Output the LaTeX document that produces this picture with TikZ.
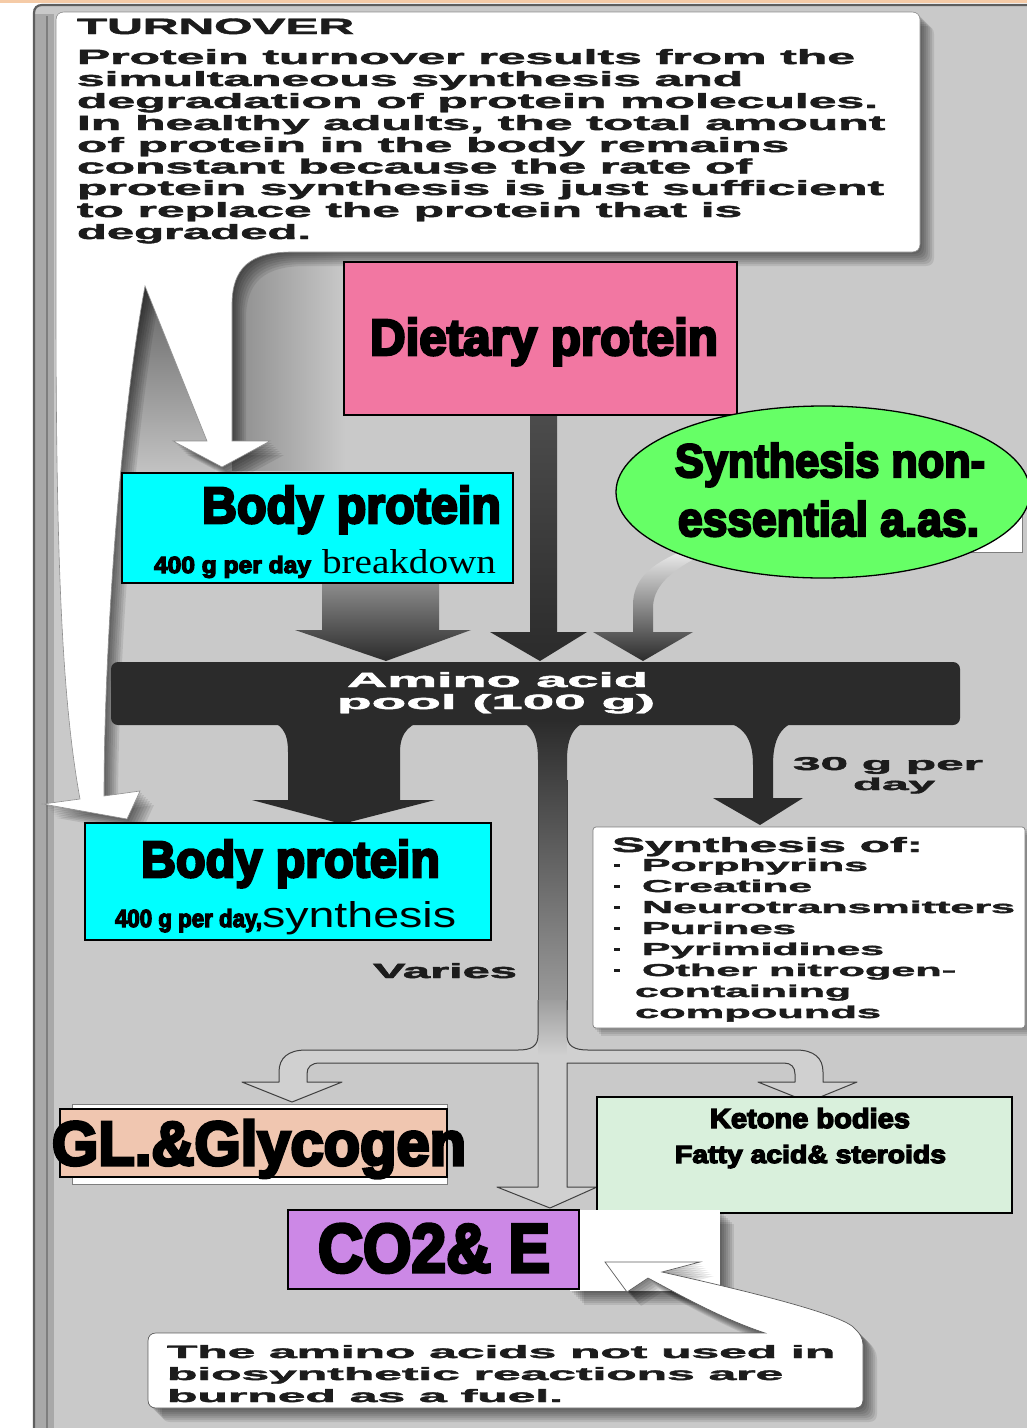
\documentclass[tikz,border=0pt]{standalone}
\usepackage{fontspec}
\usepackage{graphicx}
\setmainfont{Liberation Sans}[BoldFeatures={FakeBold=1.8}]
\newfontfamily\blkfam{Liberation Sans}[BoldFeatures={FakeBold=5}]
\newfontfamily\serffam{Liberation Serif}
\newcommand{\blk}{\blkfam\bfseries}
\newcommand{\fitw}[3]{\resizebox{#1pt}{#2pt}{#3}}
\definecolor{bggray}{HTML}{C9C9C9}
\definecolor{bandgray}{HTML}{A8A8A8}
\definecolor{framec}{HTML}{5E5E5E}
\definecolor{topline}{HTML}{F5CBA7}
\definecolor{pinkc}{HTML}{F277A2}
\definecolor{cyanc}{HTML}{00FFFF}
\definecolor{greenc}{HTML}{66FF66}
\definecolor{peachc}{HTML}{F0C6B0}
\definecolor{ketc}{HTML}{D9F0DC}
\definecolor{violc}{HTML}{CC88E6}
\definecolor{darkc}{HTML}{2B2B2B}
\definecolor{inkc}{HTML}{1C1C1C}
\definecolor{treec}{HTML}{D0D0D0}
\tikzset{
  txt/.style={anchor=base west, inner sep=0pt, outer sep=0pt, text=inkc},
  wtxt/.style={anchor=base west, inner sep=0pt, outer sep=0pt, text=white},
  colbox/.style={draw=black, line width=1.3pt},
  whitebox/.style={fill=white, draw=framec!80, line width=0.7pt},
  shd/.style={black, opacity=0.09}
}
\def\turnpath{(64,12) -- (912,12) .. controls (917,12) and (920,15) .. (920,20) -- (920,244) .. controls (920,249) and (917,252) .. (912,252) -- (292,252) .. controls (250,252) and (232,268) .. (232,305) -- (232,441) -- (270,441) -- (222,467) -- (173,441) -- (207,441) -- (145,286) .. controls (120,420) and (104,650) .. (104,796) -- (140,791) -- (127,819) -- (43,804) -- (80,799) .. controls (62,700) and (56,560) .. (56,300) -- (56,20) .. controls (56,15) and (59,12) .. (64,12) -- cycle}
\def\fuelpath{(156,1333) -- (765,1333) .. controls (720,1318) and (680,1295) .. (648,1278) -- (627,1292) -- (605,1262) -- (700,1262) -- (662,1272) .. controls (720,1285) and (830,1310) .. (852,1326) .. controls (860,1333) and (863,1338) .. (863,1345) -- (863,1400) .. controls (863,1405) and (860,1408) .. (855,1408) -- (156,1408) .. controls (151,1408) and (148,1405) .. (148,1400) -- (148,1341) .. controls (148,1336) and (151,1333) .. (156,1333) -- cycle}
\def\treepath{(538,1000) -- (538,1035) .. controls (538,1046) and (532,1050) .. (518,1050) -- (306,1050) .. controls (288,1050) and (279,1058) .. (279,1072) -- (279,1082) -- (242,1082) -- (292,1102) -- (342,1082) -- (307,1082) -- (307,1074) .. controls (307,1067) and (311,1063) .. (320,1063) -- (538,1063) -- (538,1187) -- (497,1187) -- (550,1208) -- (597,1187) -- (567,1187) -- (567,1063) -- (784,1063) .. controls (791,1063) and (795,1067) .. (795,1074) -- (795,1082) -- (758,1082) -- (808,1102) -- (857,1082) -- (823,1082) -- (823,1072) .. controls (823,1058) and (814,1050) .. (796,1050) -- (588,1050) .. controls (574,1050) and (567,1046) .. (567,1035) -- (567,1000)}
\begin{document}
\begin{tikzpicture}[x=1pt,y=-1pt]
\useasboundingbox (0,0) rectangle (1027,1428);
\clip (0,0) rectangle (1027,1428);
% background and frame
\fill[white] (0,0) rectangle (1027,1428);
\fill[topline] (0,0) rectangle (1027,3);
\fill[bggray] (34,13) .. controls (34,8) and (37,5) .. (42,5) -- (1027,5) -- (1027,1428) -- (34,1428) -- cycle;
\fill[bandgray] (34,14) rectangle (54,1428);
\draw[framec, line width=2.2pt] (34,1428) -- (34,13) .. controls (34,8) and (37,5) .. (42,5) -- (1027,5);
\draw[framec!80, line width=1.2pt] (47,16) -- (47,1428);
% shading right of the white tab
\shade[left color=black!45, right color=bggray] (232,252) rectangle (345,470);
% wedge shading between the white arrows
\shade[top color=black!62, bottom color=bggray] (145,280) -- (215,445) -- (215,485) -- (108,485) -- (118,420) -- cycle;
% top text box with its two white arrows
\foreach \d in {2,4,...,14} {\fill[shd, shift={(\d pt,-\d pt)}] \turnpath;}
\filldraw[fill=white, draw=framec!70, line width=0.6pt] \turnpath;
% white box behind the ellipse
\filldraw[whitebox] (930,505) rectangle (1022,552);
% arrows into the pool
\shade[top color=black!45, bottom color=darkc] (322,583) -- (439,583) -- (439,630) -- (471,630) -- (386,661) -- (295,630) -- (322,630) -- cycle;
\shade[top color=black!70, bottom color=darkc] (530,410) -- (557,410) -- (557,632) -- (587,632) -- (540,661) -- (490,632) -- (530,632) -- cycle;
\shade[top color=black!8, bottom color=darkc] (633,632) -- (633,605) .. controls (633,580) and (650,565) .. (680,552) -- (700,556) .. controls (668,572) and (653,588) .. (653,608) -- (653,632) -- (693,632) -- (643,661) -- (593,632) -- cycle;
% coloured boxes, upper part
\filldraw[colbox, fill=pinkc] (344,262) rectangle (737,415);
\filldraw[colbox, fill=cyanc] (122,473) rectangle (513,583);
\filldraw[colbox, fill=greenc] (823,492) ellipse [x radius=207, y radius=86];
% amino acid pool and branches
\fill[darkc, rounded corners=7pt] (111,662) rectangle (960,725);
\fill[darkc] (262,720) .. controls (282,722) and (288,732) .. (288,752) -- (288,800) -- (252,800) -- (342,824) -- (435,800) -- (400,800) -- (400,752) .. controls (400,732) and (410,722) .. (430,720) -- cycle;
\fill[darkc] (713,720) .. controls (745,722) and (753,740) .. (753,765) -- (753,798) -- (713,798) -- (760,825) -- (803,798) -- (773,798) -- (773,765) .. controls (773,740) and (780,722) .. (805,720) -- cycle;
\shade[top color=darkc, bottom color=black!38] (512,720) .. controls (532,722) and (538,735) .. (538,760) -- (538,1010) -- (567,1010) -- (567,760) .. controls (567,735) and (575,722) .. (595,720) -- cycle;
\draw[black!75, line width=0.9pt] (538,780) -- (538,1010) (567,780) -- (567,1010);
% lower hollow tree
\fill[treec] \treepath -- cycle;
\shade[top color=black!38, bottom color=treec] (538.5,1000) rectangle (566.5,1055);
\draw[black!75, line width=1pt, line join=round] \treepath;
% synthesis-of box
\foreach \d in {2,4,6,8} {\fill[shd, shift={(\d pt,-\d pt)}] (593,827) rectangle (1025,1028);}
\filldraw[whitebox, rounded corners=3pt] (593,827) rectangle (1025,1028);
% lower boxes
\filldraw[whitebox] (72,1104) rectangle (447,1184);
\filldraw[colbox, fill=peachc] (60,1109) rectangle (447,1177);
\filldraw[colbox, fill=ketc] (597,1097) rectangle (1012,1213);
\foreach \d in {2,4,...,14} {\fill[shd, shift={(\d pt,-\d pt)}] (570,1210) rectangle (720,1291);}
\fill[white] (570,1210) rectangle (720,1291);
\foreach \d in {2,4,...,14} {\fill[shd, shift={(\d pt,-\d pt)}] \fuelpath;}
\filldraw[fill=white, draw=framec, line width=0.7pt] \fuelpath;
\filldraw[colbox, fill=violc] (288,1210) rectangle (579,1289);
\filldraw[colbox, fill=cyanc] (85,823) rectangle (491,940);
% texts of the top box
\node[txt] (tt) at (77,34) {\fitw{277}{15.5}{\bfseries TURNOVER}};
\node[txt] (t1) at (77,64) {\fitw{778}{15}{\bfseries Protein turnover results from the}};
\node[txt] (t2) at (77,86) {\fitw{666}{15}{\bfseries simultaneous synthesis and}};
\node[txt] (t3) at (77,108) {\fitw{801}{15}{\bfseries degradation of protein molecules.}};
\node[txt] (t4) at (77,130) {\fitw{808}{15}{\bfseries In healthy adults, the total amount}};
\node[txt] (t5) at (77,152) {\fitw{712}{15}{\bfseries of protein in the body remains}};
\node[txt] (t6) at (77,173.5) {\fitw{675}{15}{\bfseries constant because the rate of}};
\node[txt] (t7) at (77,195) {\fitw{807}{15}{\bfseries protein synthesis is just sufficient}};
\node[txt] (t8) at (77,217) {\fitw{665}{15}{\bfseries to replace the protein that is}};
\node[txt] (t9) at (77,239) {\fitw{234}{15}{\bfseries degraded.}};
% coloured labels
\node[txt, text=black] (dp) at (370,355) {\fitw{348}{37}{\blk Dietary protein}};
\node[txt, text=black] (bp1) at (202,523) {\fitw{299}{37}{\blk Body protein}};
\node[txt, text=black] (bp1a) at (154,573) {\fitw{157}{17}{\blk 400 g per day}};
\node[txt, text=black] (bp1b) at (322,573) {\fitw{174}{24}{\serffam breakdown}};
\node[txt, text=black] (sn1) at (675,477) {\fitw{310}{34}{\blk Synthesis non-}};
\node[txt, text=black] (sn2) at (678,536) {\fitw{301}{35}{\blk essential a.as.}};
\node[txt, text=black] (bp2) at (141,877) {\fitw{299}{37}{\blk Body protein}};
\node[txt, text=black] (bp2a) at (115,927) {\fitw{147}{18}{\blk 400 g per day,}};
\node[txt, text=black] (bp2b) at (262,927) {\fitw{194}{26}{synthesis}};
\node[txt, text=black] (gl) at (52,1165) {\fitw{414}{45}{\blk GL.\&Glycogen}};
\node[txt, text=black] (kb) at (710,1128) {\fitw{200}{20}{\blk Ketone bodies}};
\node[txt, text=black] (fa) at (675,1163) {\fitw{271}{18}{\blk Fatty acid\& steroids}};
\node[txt, text=black] (co) at (318,1272) {\fitw{232}{48}{\blk CO2\& E}};
% pool and flow labels
\node[wtxt] (aa1) at (347,687) {\fitw{301}{15}{\bfseries Amino acid}};
\node[wtxt] (aa2) at (337,709) {\fitw{318}{15}{\bfseries pool (100 g)}};
\node[txt] (g30) at (793,770) {\fitw{190}{13}{\bfseries 30 g per}};
\node[txt] (g30b) at (853,790) {\fitw{82}{12.5}{\bfseries day}};
\node[txt] (var) at (373,978) {\fitw{144}{15}{\bfseries Varies}};
% synthesis-of list
\node[txt] (so) at (612,852) {\fitw{311}{15}{\bfseries Synthesis of:}};
\node[txt] (s1) at (642,871) {\fitw{226}{12.5}{\bfseries Porphyrins}};
\node[txt] (s2) at (642,892) {\fitw{170}{12.5}{\bfseries Creatine}};
\node[txt] (s3) at (642,913) {\fitw{373}{12.5}{\bfseries Neurotransmitters}};
\node[txt] (s4) at (642,934) {\fitw{154}{12.5}{\bfseries Purines}};
\node[txt] (s5) at (642,955) {\fitw{242}{12.5}{\bfseries Pyrimidines}};
\node[txt] (s6) at (642,976) {\fitw{314}{12.5}{\bfseries Other nitrogen-}};
\node[txt] (s7) at (635,997) {\fitw{216}{12.5}{\bfseries containing}};
\node[txt] (s8) at (635,1018) {\fitw{246}{12.5}{\bfseries compounds}};
\foreach \yy in {871,892,913,934,955,976} {\fill[inkc] (614,\yy-7) rectangle (620,\yy-4.5);}
% bottom box text
\node[txt] (b1) at (167,1358) {\fitw{668}{13}{\bfseries The amino acids not used in}};
\node[txt] (b2) at (167,1380) {\fitw{616}{13}{\bfseries biosynthetic reactions are}};
\node[txt] (b3) at (167,1402) {\fitw{396}{13}{\bfseries burned as a fuel.}};
\end{tikzpicture}
\end{document}
